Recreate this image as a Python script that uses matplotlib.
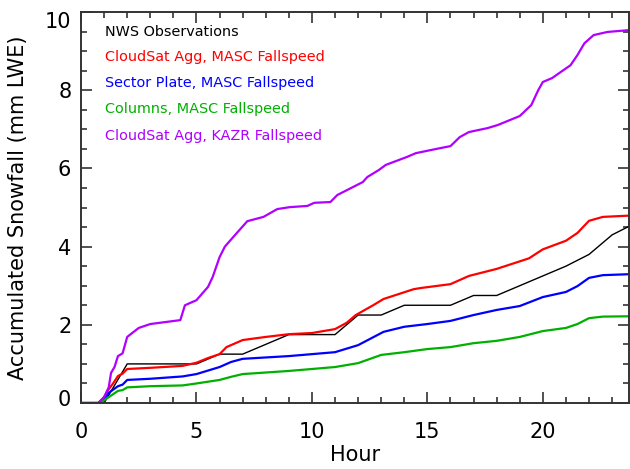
import matplotlib
matplotlib.use('Agg')
import matplotlib.pyplot as plt
import matplotlib.transforms as mtrans
from matplotlib.ticker import MultipleLocator

# NWS hourly observations
nws_hr = list(range(25))
nws = [0, 0, 1.0, 1.0, 1.0, 1.0, 1.25, 1.25, 1.5, 1.75, 1.75, 1.75, 2.25,
       2.25, 2.5, 2.5, 2.5, 2.75, 2.75, 3.0, 3.25, 3.5, 3.8, 4.3, 4.6]

# CloudSat Agg, MASC fallspeed
red_hr = [0, 0.75, 1.0, 1.17, 1.4, 1.6, 1.8, 2.0, 3.0, 4.4, 5.0, 5.5, 6.0, 6.3,
          7.0, 8.0, 9.0, 10.0, 11.0, 11.5, 11.9, 12.65, 13.1, 14.4, 14.7, 16.0,
          16.8, 18.0, 19.4, 20.0, 21.0, 21.5, 22.0, 22.6, 24.0]
red = [0, 0, 0.15, 0.33, 0.51, 0.69, 0.75, 0.87, 0.9, 0.95, 1.03, 1.15, 1.25, 1.43,
       1.61, 1.69, 1.76, 1.79, 1.89, 2.05, 2.25, 2.5, 2.66, 2.91, 2.94, 3.04,
       3.25, 3.43, 3.7, 3.93, 4.15, 4.35, 4.66, 4.76, 4.8]

# Sector plate, MASC fallspeed
blue_hr = [0, 0.75, 1.0, 1.2, 1.6, 1.8, 2.0, 3.0, 4.4, 5.0, 6.0, 6.5, 7.0, 9.0,
           11.0, 12.0, 13.1, 14.0, 15.0, 16.0, 17.0, 18.0, 19.0, 20.0, 21.0,
           21.5, 22.0, 22.6, 24.0]
blue = [0, 0, 0.1, 0.26, 0.43, 0.47, 0.59, 0.62, 0.68, 0.74, 0.92, 1.05, 1.13, 1.2,
        1.3, 1.48, 1.82, 1.95, 2.02, 2.1, 2.25, 2.38, 2.48, 2.71, 2.84,
        2.99, 3.2, 3.27, 3.3]

# Columns, MASC fallspeed
green_hr = [0, 0.75, 1.0, 1.2, 1.6, 1.8, 2.0, 3.0, 4.4, 5.0, 6.0, 6.5, 7.0, 9.0,
            11.0, 12.0, 13.0, 14.0, 15.0, 16.0, 17.0, 18.0, 19.0, 20.0, 21.0,
            21.5, 22.0, 22.6, 24.0]
green = [0, 0, 0.07, 0.15, 0.31, 0.33, 0.4, 0.43, 0.45, 0.5, 0.59, 0.67, 0.74, 0.82,
         0.92, 1.02, 1.23, 1.3, 1.38, 1.43, 1.53, 1.59, 1.69, 1.84, 1.92,
         2.02, 2.17, 2.21, 2.22]

# CloudSat Agg, KAZR fallspeed
kazr_hr = [0, 0.75, 1.0, 1.2, 1.3, 1.45, 1.6, 1.8, 2.0, 2.5, 3.0, 4.3, 4.5, 5.0,
           5.5, 5.7, 6.0, 6.23, 6.6, 7.2, 7.9, 8.5, 9.05, 9.8, 10.1, 10.8, 11.1,
           11.8, 12.2, 12.4, 12.9, 13.2, 14.1, 14.5, 15.4, 16.0, 16.4, 16.8, 17.6,
           18.05, 19.0, 19.5, 19.8, 20.0, 20.4, 21.2, 21.5, 21.8, 22.2, 22.8, 24.0]
kazr = [0, 0, 0.15, 0.4, 0.77, 0.92, 1.2, 1.27, 1.69, 1.92, 2.02, 2.12, 2.5, 2.63,
        2.97, 3.22, 3.73, 4.0, 4.25, 4.65, 4.76, 4.96, 5.01, 5.04, 5.12, 5.14, 5.32,
        5.53, 5.65, 5.78, 5.96, 6.09, 6.29, 6.39, 6.5, 6.57, 6.8, 6.93, 7.03,
        7.11, 7.34, 7.62, 8.0, 8.21, 8.31, 8.64, 8.9, 9.2, 9.41, 9.49, 9.55]

labels = ['NWS Observations', 'CloudSat Agg, MASC Fallspeed',
          'Sector Plate, MASC Fallspeed', 'Columns, MASC Fallspeed',
          'CloudSat Agg, KAZR Fallspeed']
colors = ['black', '#ff0000', '#0000ff', '#00b000', '#b000ff']

fig = plt.figure(figsize=(6.3, 4.69), dpi=100)
ax = fig.add_axes([0.1286, 0.1407, 0.8694, 0.8337])

ax.plot(nws_hr, nws, color=colors[0], lw=1.0)
ax.plot(red_hr, red, color=colors[1], lw=1.6)
ax.plot(blue_hr, blue, color=colors[2], lw=1.6)
ax.plot(green_hr, green, color=colors[3], lw=1.6)
ax.plot(kazr_hr, kazr, color=colors[4], lw=1.6)

ax.set_xlim(0, 23.72)
ax.set_ylim(0, 10)
ax.set_xticks([0, 5, 10, 15, 20])
ax.set_yticks([0, 2, 4, 6, 8, 10])
ax.xaxis.set_minor_locator(MultipleLocator(1))
ax.yaxis.set_minor_locator(MultipleLocator(0.5))
ax.tick_params(which='both', direction='in', top=True, right=True,
               color='#333333', width=1.2)
ax.tick_params(which='major', length=8)
ax.tick_params(which='minor', length=4)
ax.tick_params(axis='x', labelsize=15, pad=14)
ax.tick_params(axis='y', labelsize=15, pad=7)
for s in ax.spines.values():
    s.set_color('#333333')
    s.set_linewidth(1.4)

# nudge the end labels inward like the original
ylabs = ax.get_yticklabels()
ylabs[-1].set_transform(ylabs[-1].get_transform() +
                        mtrans.ScaledTranslation(0, -0.08, fig.dpi_scale_trans))
ylabs[0].set_transform(ylabs[0].get_transform() +
                       mtrans.ScaledTranslation(0, 0.05, fig.dpi_scale_trans))

ax.set_xlabel('Hour', fontsize=15, labelpad=2)
ax.set_ylabel('Accumulated Snowfall (mm LWE)', fontsize=15, labelpad=12)

# IDL-style text legend
leg_y = [9.49, 8.85, 8.18, 7.52, 6.83]
for lab, c, yy in zip(labels, colors, leg_y):
    ax.text(1.04, yy, lab, color=c, fontsize=10.4, va='center', ha='left')

plt.savefig('out.png', dpi=100)
